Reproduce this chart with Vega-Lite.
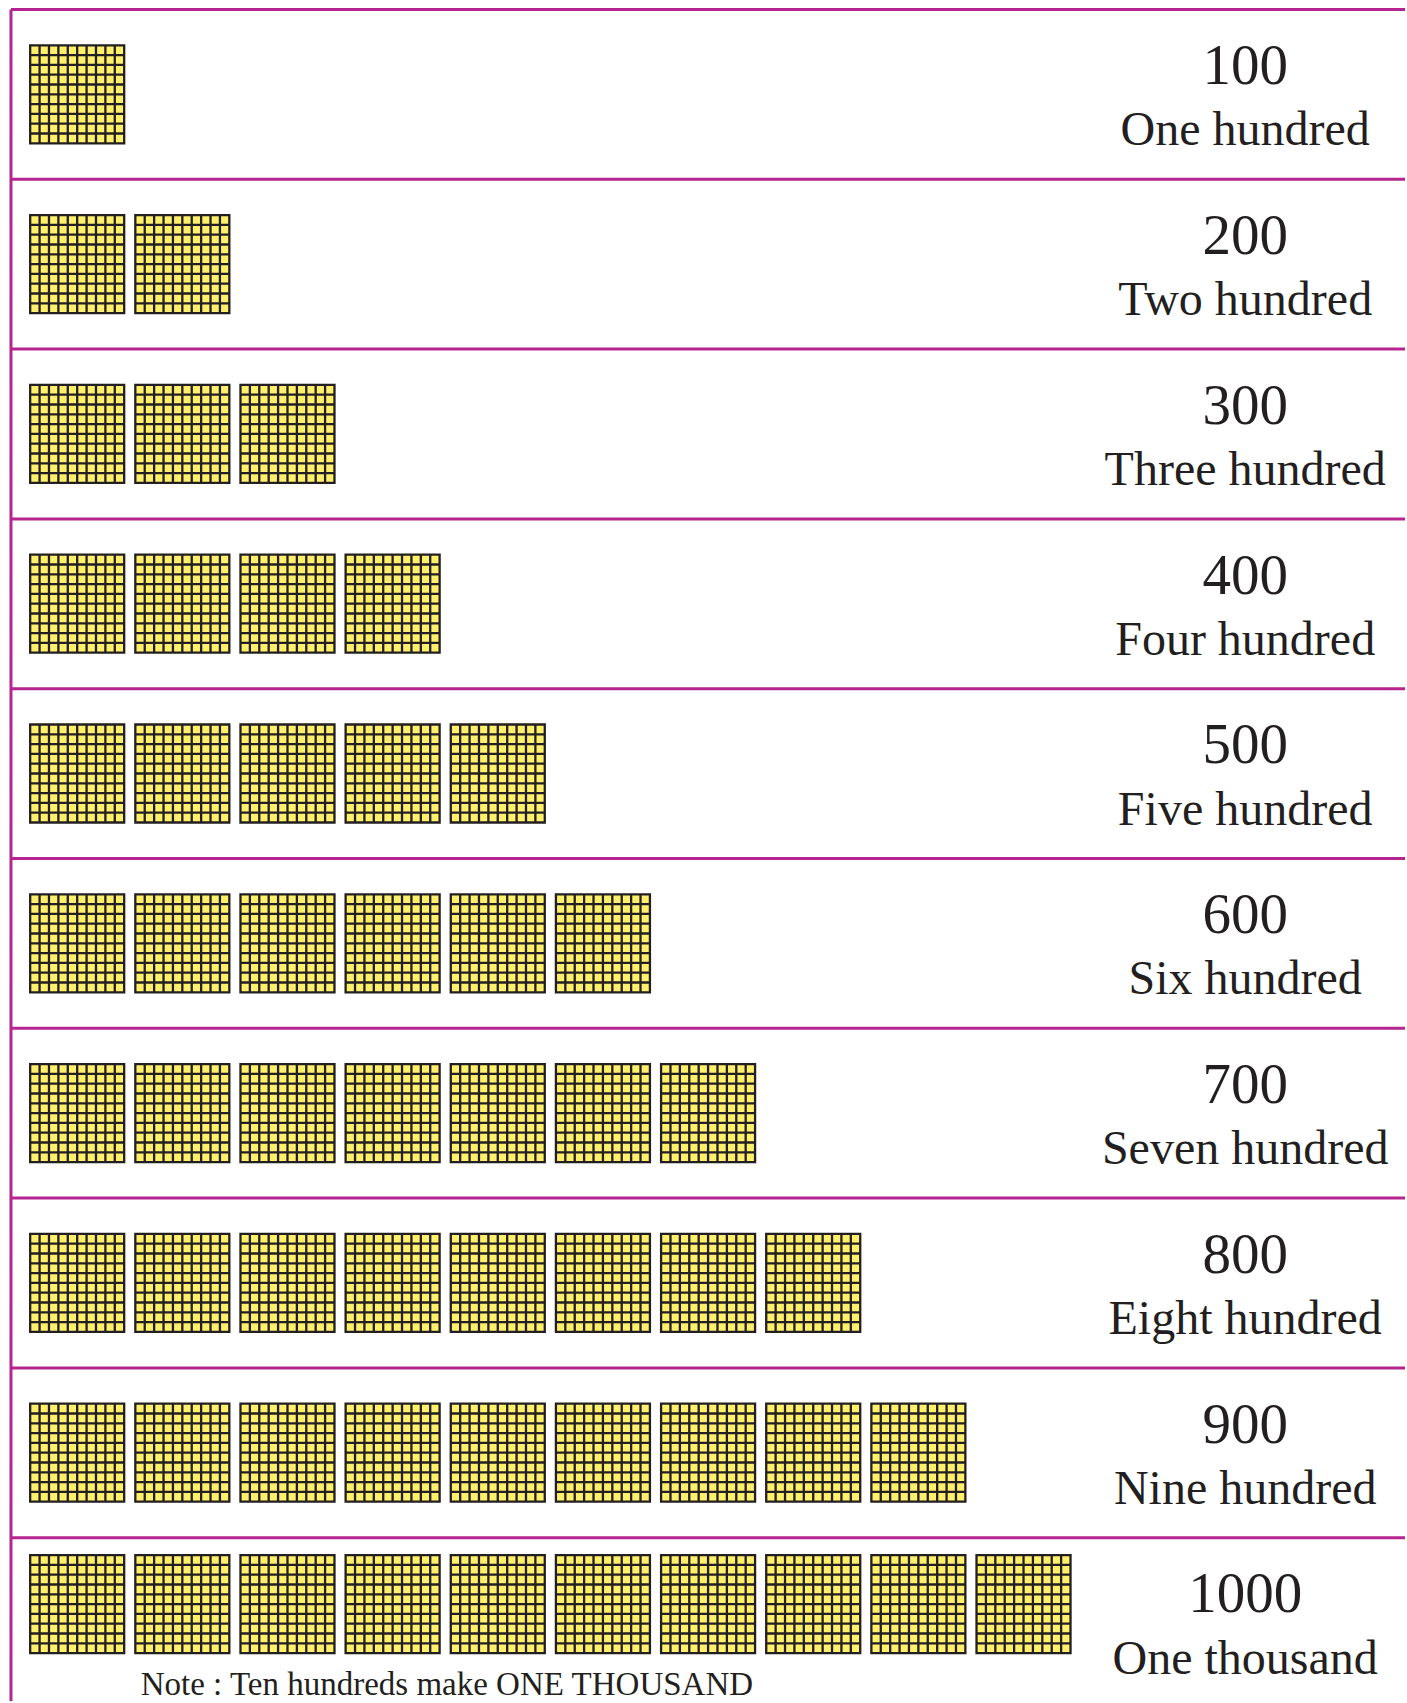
{
  "$schema": "https://vega.github.io/schema/vega-lite/v6.json",
  "width": 1407,
  "height": 1703,
  "autosize": {"type": "fit", "contains": "padding"},
  "padding": 0,
  "background": "white",
  "config": {"view": {"stroke": null}},
  "datasets": {
    "squares": [
      {"row": 1, "col": 1},
      {"row": 2, "col": 1}, {"row": 2, "col": 2},
      {"row": 3, "col": 1}, {"row": 3, "col": 2}, {"row": 3, "col": 3},
      {"row": 4, "col": 1}, {"row": 4, "col": 2}, {"row": 4, "col": 3}, {"row": 4, "col": 4},
      {"row": 5, "col": 1}, {"row": 5, "col": 2}, {"row": 5, "col": 3}, {"row": 5, "col": 4}, {"row": 5, "col": 5},
      {"row": 6, "col": 1}, {"row": 6, "col": 2}, {"row": 6, "col": 3}, {"row": 6, "col": 4}, {"row": 6, "col": 5}, {"row": 6, "col": 6},
      {"row": 7, "col": 1}, {"row": 7, "col": 2}, {"row": 7, "col": 3}, {"row": 7, "col": 4}, {"row": 7, "col": 5}, {"row": 7, "col": 6}, {"row": 7, "col": 7},
      {"row": 8, "col": 1}, {"row": 8, "col": 2}, {"row": 8, "col": 3}, {"row": 8, "col": 4}, {"row": 8, "col": 5}, {"row": 8, "col": 6}, {"row": 8, "col": 7}, {"row": 8, "col": 8},
      {"row": 9, "col": 1}, {"row": 9, "col": 2}, {"row": 9, "col": 3}, {"row": 9, "col": 4}, {"row": 9, "col": 5}, {"row": 9, "col": 6}, {"row": 9, "col": 7}, {"row": 9, "col": 8}, {"row": 9, "col": 9},
      {"row": 10, "col": 1}, {"row": 10, "col": 2}, {"row": 10, "col": 3}, {"row": 10, "col": 4}, {"row": 10, "col": 5}, {"row": 10, "col": 6}, {"row": 10, "col": 7}, {"row": 10, "col": 8}, {"row": 10, "col": 9}, {"row": 10, "col": 10}
    ],
    "rows": [
      {"row": 1, "number": "100", "words": "One hundred"},
      {"row": 2, "number": "200", "words": "Two hundred"},
      {"row": 3, "number": "300", "words": "Three hundred"},
      {"row": 4, "number": "400", "words": "Four hundred"},
      {"row": 5, "number": "500", "words": "Five hundred"},
      {"row": 6, "number": "600", "words": "Six hundred"},
      {"row": 7, "number": "700", "words": "Seven hundred"},
      {"row": 8, "number": "800", "words": "Eight hundred"},
      {"row": 9, "number": "900", "words": "Nine hundred"},
      {"row": 10, "number": "1000", "words": "One thousand"}
    ],
    "note": [
      {"row": 10, "note": "Note : Ten hundreds make ONE THOUSAND"}
    ]
  },
  "layer": [
    {
      "data": {"name": "rows"},
      "mark": {"type": "rule", "color": "#B5248F", "strokeWidth": 3},
      "encoding": {
        "y": {"field": "row", "type": "quantitative", "axis": null, "scale": {"domain": [0.94412, 10.9618], "reverse": true, "nice": false, "zero": false}},
        "x": {"datum": 0.3704, "type": "quantitative", "axis": null, "scale": {"domain": [0.266, 13.628], "nice": false, "zero": false}},
        "x2": {"datum": 13.628}
      }
    },
    {
      "data": {"values": [{"edge": "left"}]},
      "mark": {"type": "rule", "color": "#B5248F", "strokeWidth": 3},
      "encoding": {
        "x": {"datum": 0.3704, "type": "quantitative", "axis": null, "scale": {"domain": [0.266, 13.628], "nice": false, "zero": false}},
        "y": {"datum": 1, "type": "quantitative", "axis": null, "scale": {"domain": [0.94412, 10.9618], "reverse": true, "nice": false, "zero": false}},
        "y2": {"datum": 10.9618}
      }
    },
    {
      "data": {"name": "squares"},
      "transform": [{"filter": "datum.row < 10"}],
      "mark": {
        "type": "point",
        "shape": "M-0.94,-0.98H0.94V0.98H-0.94Z M-0.752,-0.98V0.98 M-0.564,-0.98V0.98 M-0.376,-0.98V0.98 M-0.188,-0.98V0.98 M0,-0.98V0.98 M0.188,-0.98V0.98 M0.376,-0.98V0.98 M0.564,-0.98V0.98 M0.752,-0.98V0.98 M-0.94,-0.784H0.94 M-0.94,-0.588H0.94 M-0.94,-0.392H0.94 M-0.94,-0.196H0.94 M-0.94,0H0.94 M-0.94,0.196H0.94 M-0.94,0.392H0.94 M-0.94,0.588H0.94 M-0.94,0.784H0.94",
        "size": 10000,
        "filled": true,
        "fill": "#FFF06B",
        "stroke": "#231F20",
        "strokeWidth": 2.3,
        "opacity": 1,
        "yOffset": 84.8
      },
      "encoding": {
        "x": {"field": "col", "type": "quantitative", "axis": null, "scale": {"domain": [0.266, 13.628], "nice": false, "zero": false}},
        "y": {"field": "row", "type": "quantitative", "axis": null, "scale": {"domain": [0.94412, 10.9618], "reverse": true, "nice": false, "zero": false}}
      }
    },
    {
      "data": {"name": "squares"},
      "transform": [{"filter": "datum.row == 10"}],
      "mark": {
        "type": "point",
        "shape": "M-0.94,-0.98H0.94V0.98H-0.94Z M-0.752,-0.98V0.98 M-0.564,-0.98V0.98 M-0.376,-0.98V0.98 M-0.188,-0.98V0.98 M0,-0.98V0.98 M0.188,-0.98V0.98 M0.376,-0.98V0.98 M0.564,-0.98V0.98 M0.752,-0.98V0.98 M-0.94,-0.784H0.94 M-0.94,-0.588H0.94 M-0.94,-0.392H0.94 M-0.94,-0.196H0.94 M-0.94,0H0.94 M-0.94,0.196H0.94 M-0.94,0.392H0.94 M-0.94,0.588H0.94 M-0.94,0.784H0.94",
        "size": 10000,
        "filled": true,
        "fill": "#FFF06B",
        "stroke": "#231F20",
        "strokeWidth": 2.3,
        "opacity": 1,
        "yOffset": 66.4
      },
      "encoding": {
        "x": {"field": "col", "type": "quantitative", "axis": null, "scale": {"domain": [0.266, 13.628], "nice": false, "zero": false}},
        "y": {"field": "row", "type": "quantitative", "axis": null, "scale": {"domain": [0.94412, 10.9618], "reverse": true, "nice": false, "zero": false}}
      }
    },
    {
      "data": {"name": "rows"},
      "mark": {"type": "text", "font": "Liberation Serif", "fontSize": 57, "color": "#231F20", "align": "center", "baseline": "alphabetic", "yOffset": 74.7},
      "encoding": {
        "x": {"datum": 12.108, "type": "quantitative", "axis": null, "scale": {"domain": [0.266, 13.628], "nice": false, "zero": false}},
        "y": {"field": "row", "type": "quantitative", "axis": null, "scale": {"domain": [0.94412, 10.9618], "reverse": true, "nice": false, "zero": false}},
        "text": {"field": "number"}
      }
    },
    {
      "data": {"name": "rows"},
      "mark": {"type": "text", "font": "Liberation Serif", "fontSize": 48, "color": "#231F20", "align": "center", "baseline": "alphabetic", "yOffset": 136},
      "encoding": {
        "x": {"datum": 12.108, "type": "quantitative", "axis": null, "scale": {"domain": [0.266, 13.628], "nice": false, "zero": false}},
        "y": {"field": "row", "type": "quantitative", "axis": null, "scale": {"domain": [0.94412, 10.9618], "reverse": true, "nice": false, "zero": false}},
        "text": {"field": "words"}
      }
    },
    {
      "data": {"name": "note"},
      "mark": {"type": "text", "font": "Liberation Serif", "fontSize": 33, "color": "#231F20", "align": "center", "baseline": "alphabetic", "yOffset": 157.2},
      "encoding": {
        "x": {"datum": 4.516, "type": "quantitative", "axis": null, "scale": {"domain": [0.266, 13.628], "nice": false, "zero": false}},
        "y": {"field": "row", "type": "quantitative", "axis": null, "scale": {"domain": [0.94412, 10.9618], "reverse": true, "nice": false, "zero": false}},
        "text": {"field": "note"}
      }
    }
  ]
}
